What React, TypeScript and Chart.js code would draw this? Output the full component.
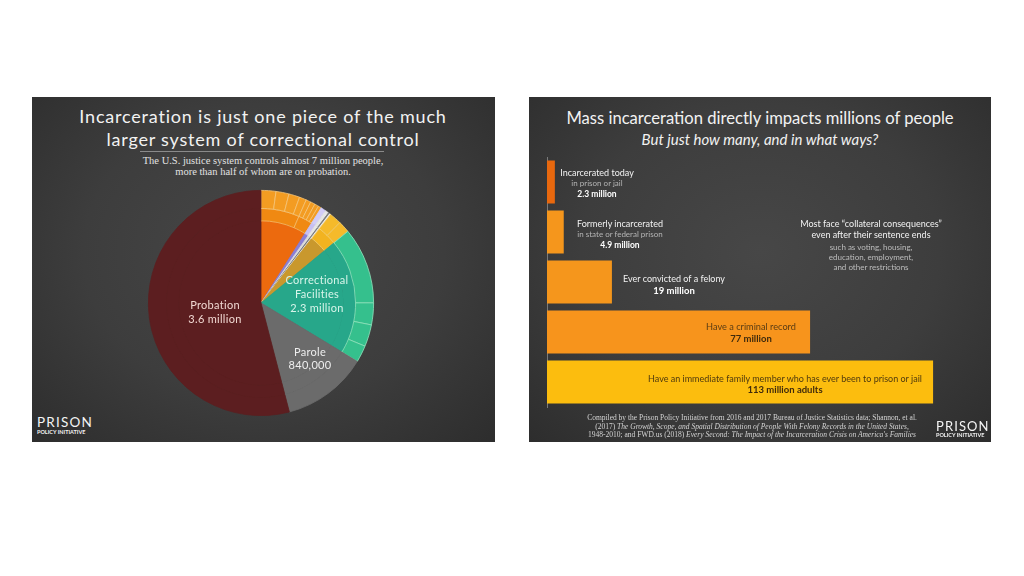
import React, { useEffect, useRef } from 'react';
import { Chart, registerables } from 'chart.js';

Chart.register(...registerables);

// ---------- Left panel: sunburst-style pie (thousands of people) ----------
const pieInnerLabels = ['Local jails', 'Youth', 'Immigration', 'Civil commitment', 'Other', 'Federal prisons', 'State prisons', 'Parole', 'Probation'];
const pieInnerValues = [615, 50, 35, 15, 10, 235, 1345, 840, 3700];
const pieMiddleValues = [450, 165, 50, 35, 15, 10, 235, 1345, 840, 3700];
const pieOuterValues = [146, 128, 107, 69, 48, 46, 40, 31, 50, 35, 15, 10, 120, 115, 750, 215, 215, 165, 840, 3700];

const pieInnerColors = ['#ec6a0e', '#8a7fd6', '#dcdcdc', '#6f6f6f', '#f0f0f0', '#c9982d', '#27a78a', '#6b6b6b', '#5c1e20'];
const pieMiddleColors = ['#f08912', '#f08912', '#c7bff4', '#e6e6e6', '#7d7d7d', '#f5f5f5', '#f2b320', '#27a78a', '#6b6b6b', '#5c1e20'];
const pieMiddleBorders = ['#f7bd6a', '#f7bd6a', '#c7bff4', '#e6e6e6', '#7d7d7d', '#f5f5f5', '#f8d070', '#27a78a', '#6b6b6b', '#5c1e20'];
const pieOuterColors = ['#f39c22', '#f39c22', '#f39c22', '#f39c22', '#f39c22', '#f39c22', '#f39c22', '#f39c22', '#d2ccf7', '#e6e6e6', '#7d7d7d', '#f5f5f5', '#f5ba2a', '#f5ba2a', '#35c08d', '#35c08d', '#35c08d', '#35c08d', '#6b6b6b', '#5c1e20'];
const pieOuterBorders = ['#f8c67a', '#f8c67a', '#f8c67a', '#f8c67a', '#f8c67a', '#f8c67a', '#f8c67a', '#f8c67a', '#d2ccf7', '#e6e6e6', '#7d7d7d', '#f5f5f5', '#f8d070', '#f8d070', '#8fe3bd', '#8fe3bd', '#8fe3bd', '#8fe3bd', '#6b6b6b', '#5c1e20'];

// ---------- Right panel: horizontal bars (millions of people) ----------
const barCategories = [
  'Incarcerated today',
  'Formerly incarcerated',
  'Ever convicted of a felony',
  'Have a criminal record',
  'Have an immediate family member who has ever been to prison or jail',
];
const barValues = [2.3, 4.9, 19, 77, 113];
const barColors = ['#e8680e', '#f5961c', '#f5961c', '#f7941c', '#fcbd0e'];

const SANS = 'Lato, "Open Sans", sans-serif';
const SERIF = '"Liberation Serif", "DejaVu Serif", serif';

function T(props: { x: number; y: number; text: string; size: number; color: string; weight?: number; italic?: boolean; font?: string; ls?: number; align?: 'center' | 'left' }) {
  const { x, y, text, size, color, weight = 400, italic = false, font = SANS, ls = 0, align = 'center' } = props;
  return (
    <div
      style={{
        position: 'absolute',
        left: x,
        top: y,
        transform: align === 'center' ? 'translate(-50%, -50%)' : 'translate(0, -50%)',
        whiteSpace: 'nowrap',
        fontFamily: font,
        fontSize: size,
        lineHeight: 1,
        color,
        fontWeight: weight,
        fontStyle: italic ? 'italic' : 'normal',
        letterSpacing: ls,
      }}
    >
      {text}
    </div>
  );
}

const panelBg = 'radial-gradient(ellipse at 50% 45%, #474747 0%, #3d3d3d 55%, #2d2d2d 100%)';

export default function App() {
  const pieRef = useRef<HTMLCanvasElement>(null);
  const barRef = useRef<HTMLCanvasElement>(null);

  useEffect(() => {
    const pie = new Chart(pieRef.current as HTMLCanvasElement, {
      type: 'pie',
      data: {
        labels: pieInnerLabels,
        datasets: [
          { data: pieOuterValues, backgroundColor: pieOuterColors, borderColor: pieOuterBorders, borderWidth: 0.8, weight: 16 } as any,
          { data: pieMiddleValues, backgroundColor: pieMiddleColors, borderColor: pieMiddleBorders, borderWidth: 0.8, weight: 11 } as any,
          { data: pieInnerValues, backgroundColor: pieInnerColors, borderColor: pieInnerColors, borderWidth: 0.8, weight: 73 } as any,
        ],
      },
      options: {
        responsive: false,
        animation: false,
        layout: { padding: 4 },
        plugins: { legend: { display: false }, tooltip: { enabled: false } },
      },
    });

    const bar = new Chart(barRef.current as HTMLCanvasElement, {
      type: 'bar',
      data: {
        labels: barCategories,
        datasets: [
          {
            data: barValues,
            backgroundColor: barColors,
            borderWidth: 0,
            barPercentage: 0.86,
            categoryPercentage: 1,
          },
        ],
      },
      options: {
        indexAxis: 'y',
        responsive: false,
        animation: false,
        layout: { padding: { left: 18, right: 34, top: 7, bottom: 8 } },
        plugins: { legend: { display: false }, tooltip: { enabled: false } },
        scales: {
          x: { display: false, min: 0, max: 120 },
          y: {
            display: true,
            ticks: { display: false },
            grid: { display: false, drawTicks: false, tickLength: 0 },
            border: { display: true, color: '#7a7a7a', width: 1 },
          },
        },
      },
    });

    return () => {
      pie.destroy();
      bar.destroy();
    };
  }, []);

  const foot: React.CSSProperties = { position: 'absolute', left: 752, transform: 'translate(-50%, -50%)', whiteSpace: 'nowrap', fontFamily: SERIF, fontSize: 7.5, lineHeight: 1, color: '#d4d4d4' };

  return (
    <div style={{ position: 'fixed', left: 0, top: 0, width: 1024, height: 576, background: '#ffffff', overflow: 'hidden' }}>
      {/* Left panel */}
      <div style={{ position: 'absolute', left: 32, top: 97, width: 463, height: 345, background: panelBg }} />
      <T x={263} y={116} text="Incarceration is just one piece of the much" size={18} color="#f2f2f2" ls={0.8} />
      <T x={263} y={139} text="larger system of correctional control" size={18} color="#f2f2f2" ls={0.8} />
      <div style={{ position: 'absolute', left: 140, top: 151, width: 244, height: 1, background: '#8a8a8a' }} />
      <T x={263} y={161} text="The U.S. justice system controls almost 7 million people," size={10.5} color="#e2e2e2" font={SERIF} />
      <T x={263} y={172} text="more than half of whom are on probation." size={10.5} color="#e2e2e2" font={SERIF} />
      <canvas ref={pieRef} width={234} height={234} style={{ position: 'absolute', left: 144, top: 186, width: 234, height: 234 }} />
      <T x={215} y={304} text="Probation" size={11} color="#f1d8d2" ls={0.3} />
      <T x={215} y={318} text="3.6 million" size={11} color="#f1d8d2" ls={0.3} />
      <T x={317} y={279} text="Correctional" size={11} color="#d8f5ea" ls={0.3} />
      <T x={317} y={293} text="Facilities" size={11} color="#d8f5ea" ls={0.3} />
      <T x={317} y={307} text="2.3 million" size={11} color="#d8f5ea" ls={0.3} />
      <T x={310} y={351} text="Parole" size={11} color="#eeeeee" ls={0.3} />
      <T x={310} y={364} text="840,000" size={11} color="#eeeeee" ls={0.3} />
      <T x={37} y={423} text="PRISON" size={13.5} color="#f4f4f4" ls={1.2} align="left" />
      <T x={37} y={433} text="POLICY INITIATIVE" size={5.5} color="#f4f4f4" weight={700} align="left" />

      {/* Right panel */}
      <div style={{ position: 'absolute', left: 529, top: 97, width: 462, height: 345, background: panelBg }} />
      <T x={760} y={118} text="Mass incarceration directly impacts millions of people" size={16.6} color="#f2f2f2" />
      <T x={760} y={139} text="But just how many, and in what ways?" size={15} color="#f2f2f2" italic />
      <canvas ref={barRef} width={462} height={265} style={{ position: 'absolute', left: 529, top: 150, width: 462, height: 265 }} />

      <T x={597} y={172} text="Incarcerated today" size={9} color="#f2f2f2" />
      <T x={597} y={183} text="in prison or jail" size={8} color="#b5b5b5" />
      <T x={597} y={194} text="2.3 million" size={8.5} color="#ffffff" weight={700} />

      <T x={620} y={223} text="Formerly incarcerated" size={9} color="#f2f2f2" />
      <T x={620} y={234} text="in state or federal prison" size={8} color="#b5b5b5" />
      <T x={620} y={245} text="4.9 million" size={8.5} color="#ffffff" weight={700} />

      <T x={871} y={223} text="Most face “collateral consequences”" size={9} color="#f2f2f2" />
      <T x={871} y={234} text="even after their sentence ends" size={9} color="#f2f2f2" />
      <T x={871} y={247} text="such as voting, housing," size={8} color="#bdbdbd" />
      <T x={871} y={257} text="education, employment," size={8} color="#bdbdbd" />
      <T x={871} y={267} text="and other restrictions" size={8} color="#bdbdbd" />

      <T x={674} y={278} text="Ever convicted of a felony" size={9} color="#f2f2f2" />
      <T x={674} y={291} text="19 million" size={9.5} color="#ffffff" weight={700} />

      <T x={751} y={327} text="Have a criminal record" size={9.2} color="#5a3c14" />
      <T x={751} y={339} text="77 million" size={9.5} color="#3f2a0c" weight={700} />

      <T x={785} y={378} text="Have an immediate family member who has ever been to prison or jail" size={9} color="#4f3a0e" />
      <T x={785} y={390} text="113 million adults" size={9.5} color="#3f2a0c" weight={700} />

      <div style={{ ...foot, top: 418 }}>Compiled by the Prison Policy Initiative from 2016 and 2017 Bureau of Justice Statistics data; Shannon, et al.</div>
      <div style={{ ...foot, top: 427 }}>
        (2017) <i>The Growth, Scope, and Spatial Distribution of People With Felony Records in the United States,</i>
      </div>
      <div style={{ ...foot, top: 435 }}>
        1948-2010; and FWD.us (2018) <i>Every Second: The Impact of the Incarceration Crisis on America's Families</i>
      </div>
      <T x={936} y={426} text="PRISON" size={13} color="#f4f4f4" ls={1.1} align="left" />
      <T x={936} y={436} text="POLICY INITIATIVE" size={5.5} color="#f4f4f4" weight={700} align="left" />
    </div>
  );
}
